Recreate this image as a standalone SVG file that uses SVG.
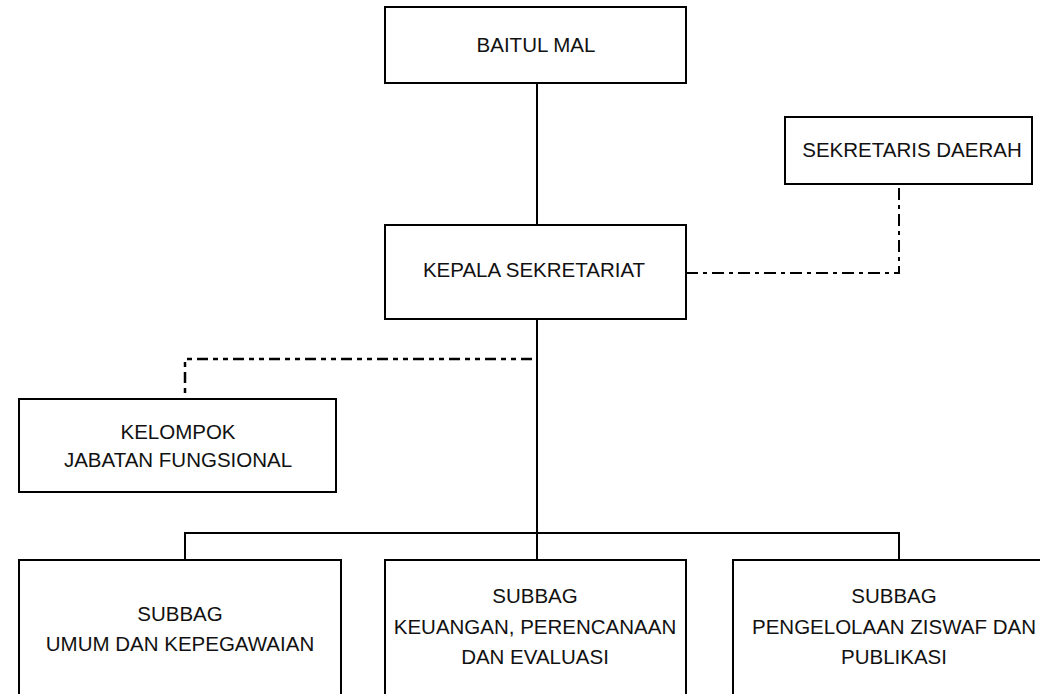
<svg xmlns="http://www.w3.org/2000/svg" width="1040" height="694" viewBox="0 0 1040 694">
  <style>
    .box { fill: #ffffff; stroke: #000000; stroke-width: 2; }
    .lbl { font-family: "Liberation Sans", Arial, sans-serif; font-size: 20.5px; fill: #111111; text-anchor: middle; }
    .solid { fill: none; stroke: #000000; stroke-width: 2; }
    .dashdot { fill: none; stroke: #000000; stroke-width: 2; stroke-dasharray: 12 5 4 5; }
    .dashdotdot { fill: none; stroke: #000000; stroke-width: 2.5; stroke-dasharray: 11 5 5 5 5 5; }
  </style>
  <rect width="1040" height="694" fill="#ffffff"/>

  <!-- connectors -->
  <g id="connectors">
    <path class="solid" d="M537 83 V225"/>
    <path class="solid" d="M537 319 V560"/>
    <path class="solid" d="M185 560 V533 H899 V560"/>
    <path class="dashdot" d="M686 273 H899 V184"/>
    <path class="dashdotdot" d="M532 359 H185 V399"/>
  </g>

  <g id="baitul-mal">
    <rect class="box" x="385" y="7" width="301" height="76"/>
    <text class="lbl" x="536" y="52">BAITUL MAL</text>
  </g>

  <g id="sekretaris-daerah">
    <rect class="box" x="785" y="117" width="247" height="67"/>
    <text class="lbl" x="912" y="157">SEKRETARIS DAERAH</text>
  </g>

  <g id="kepala-sekretariat">
    <rect class="box" x="385" y="225" width="301" height="94"/>
    <text class="lbl" x="534" y="277">KEPALA SEKRETARIAT</text>
  </g>

  <g id="kelompok-jabatan-fungsional">
    <rect class="box" x="19" y="399" width="317" height="93"/>
    <text class="lbl" x="178" y="439">KELOMPOK</text>
    <text class="lbl" x="178" y="467">JABATAN FUNGSIONAL</text>
  </g>

  <g id="subbag-umum">
    <rect class="box" x="19" y="560" width="322" height="150"/>
    <text class="lbl" x="180" y="621">SUBBAG</text>
    <text class="lbl" x="180" y="651">UMUM DAN KEPEGAWAIAN</text>
  </g>

  <g id="subbag-keuangan">
    <rect class="box" x="385" y="560" width="301" height="150"/>
    <text class="lbl" x="535" y="603">SUBBAG</text>
    <text class="lbl" x="535" y="634">KEUANGAN, PERENCANAAN</text>
    <text class="lbl" x="535" y="664">DAN EVALUASI</text>
  </g>

  <g id="subbag-ziswaf">
    <rect class="box" x="733" y="560" width="330" height="150"/>
    <text class="lbl" x="894" y="603">SUBBAG</text>
    <text class="lbl" x="894" y="634">PENGELOLAAN ZISWAF DAN</text>
    <text class="lbl" x="894" y="664">PUBLIKASI</text>
  </g>
</svg>
